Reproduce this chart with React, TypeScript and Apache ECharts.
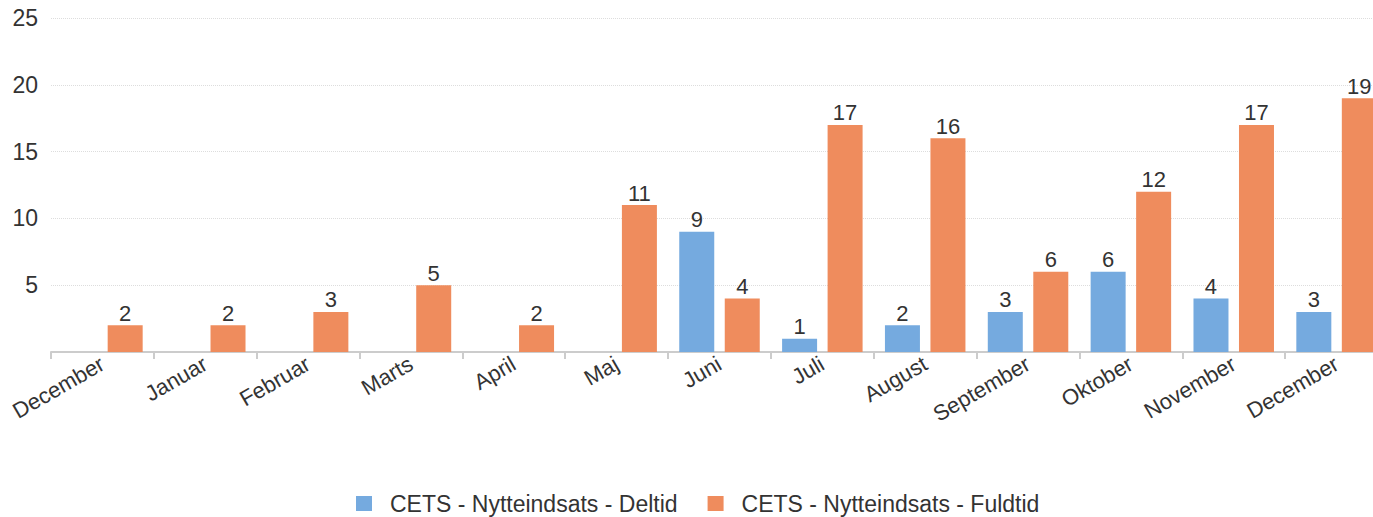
import React, { useEffect, useRef } from "react";
import * as echarts from "echarts";

const categories = [
  "December", "Januar", "Februar", "Marts", "April", "Maj", "Juni",
  "Juli", "August", "September", "Oktober", "November", "December",
];
const deltid: (number | null)[] = [null, null, null, null, null, null, 9, 1, 2, 3, 6, 4, 3];
const fuldtid: number[] = [2, 2, 3, 5, 2, 11, 4, 17, 16, 6, 12, 17, 19];
const seriesNames = ["CETS - Nytteindsats - Deltid", "CETS - Nytteindsats - Fuldtid"];
const yTicks = { min: 0, max: 25, interval: 5 };

const FONT = "'Liberation Sans', Arial, sans-serif";
const TEXT = "#333333";

export default function App() {
  const ref = useRef<HTMLDivElement>(null);
  useEffect(() => {
    if (!ref.current) return;
    const chart = echarts.init(ref.current, undefined, { renderer: "svg" });
    const labelStyle = {
      show: true,
      position: "top" as const,
      distance: 1,
      fontSize: 22,
      color: TEXT,
      fontFamily: FONT,
    };
    chart.setOption({
      animation: false,
      textStyle: { fontFamily: FONT },
      grid: { left: 51, top: 18, right: 0, height: 334, containLabel: false },
      legend: {
        top: 487,
        left: 351,
        icon: "rect",
        itemWidth: 16,
        itemHeight: 15,
        itemGap: 30,
        textStyle: {
          fontSize: 23,
          color: TEXT,
          fontFamily: FONT,
          padding: [0, 0, 0, 13],
        },
        data: seriesNames,
      },
      xAxis: {
        type: "category",
        data: categories,
        axisLine: { lineStyle: { color: "#cccccc", width: 2 } },
        axisTick: { show: true, length: 7, lineStyle: { color: "#cccccc", width: 2 } },
        axisLabel: {
          rotate: 30,
          fontSize: 22,
          color: TEXT,
          fontFamily: FONT,
          margin: 10,
          interval: 0,
        },
      },
      yAxis: {
        type: "value",
        min: yTicks.min,
        max: yTicks.max,
        interval: yTicks.interval,
        axisLine: { show: false },
        axisTick: { show: false },
        splitLine: { lineStyle: { color: "#dddddd", type: "dotted", width: 1 } },
        axisLabel: {
          fontSize: 23,
          color: TEXT,
          fontFamily: FONT,
          margin: 13,
          formatter: (v: number) => (v === 0 ? "" : String(v)),
        },
      },
      series: [
        {
          name: seriesNames[0],
          type: "bar",
          data: deltid,
          barWidth: 35,
          barGap: "30%",
          itemStyle: { color: "#75AADF" },
          label: labelStyle,
        },
        {
          name: seriesNames[1],
          type: "bar",
          data: fuldtid,
          barWidth: 35,
          barGap: "30%",
          itemStyle: { color: "#EF8C5D" },
          label: labelStyle,
        },
      ],
    });
    return () => chart.dispose();
  }, []);
  return (
    <div
      ref={ref}
      style={{ position: "fixed", left: 0, top: 0, width: 1388, height: 517, background: "#fff" }}
    />
  );
}
